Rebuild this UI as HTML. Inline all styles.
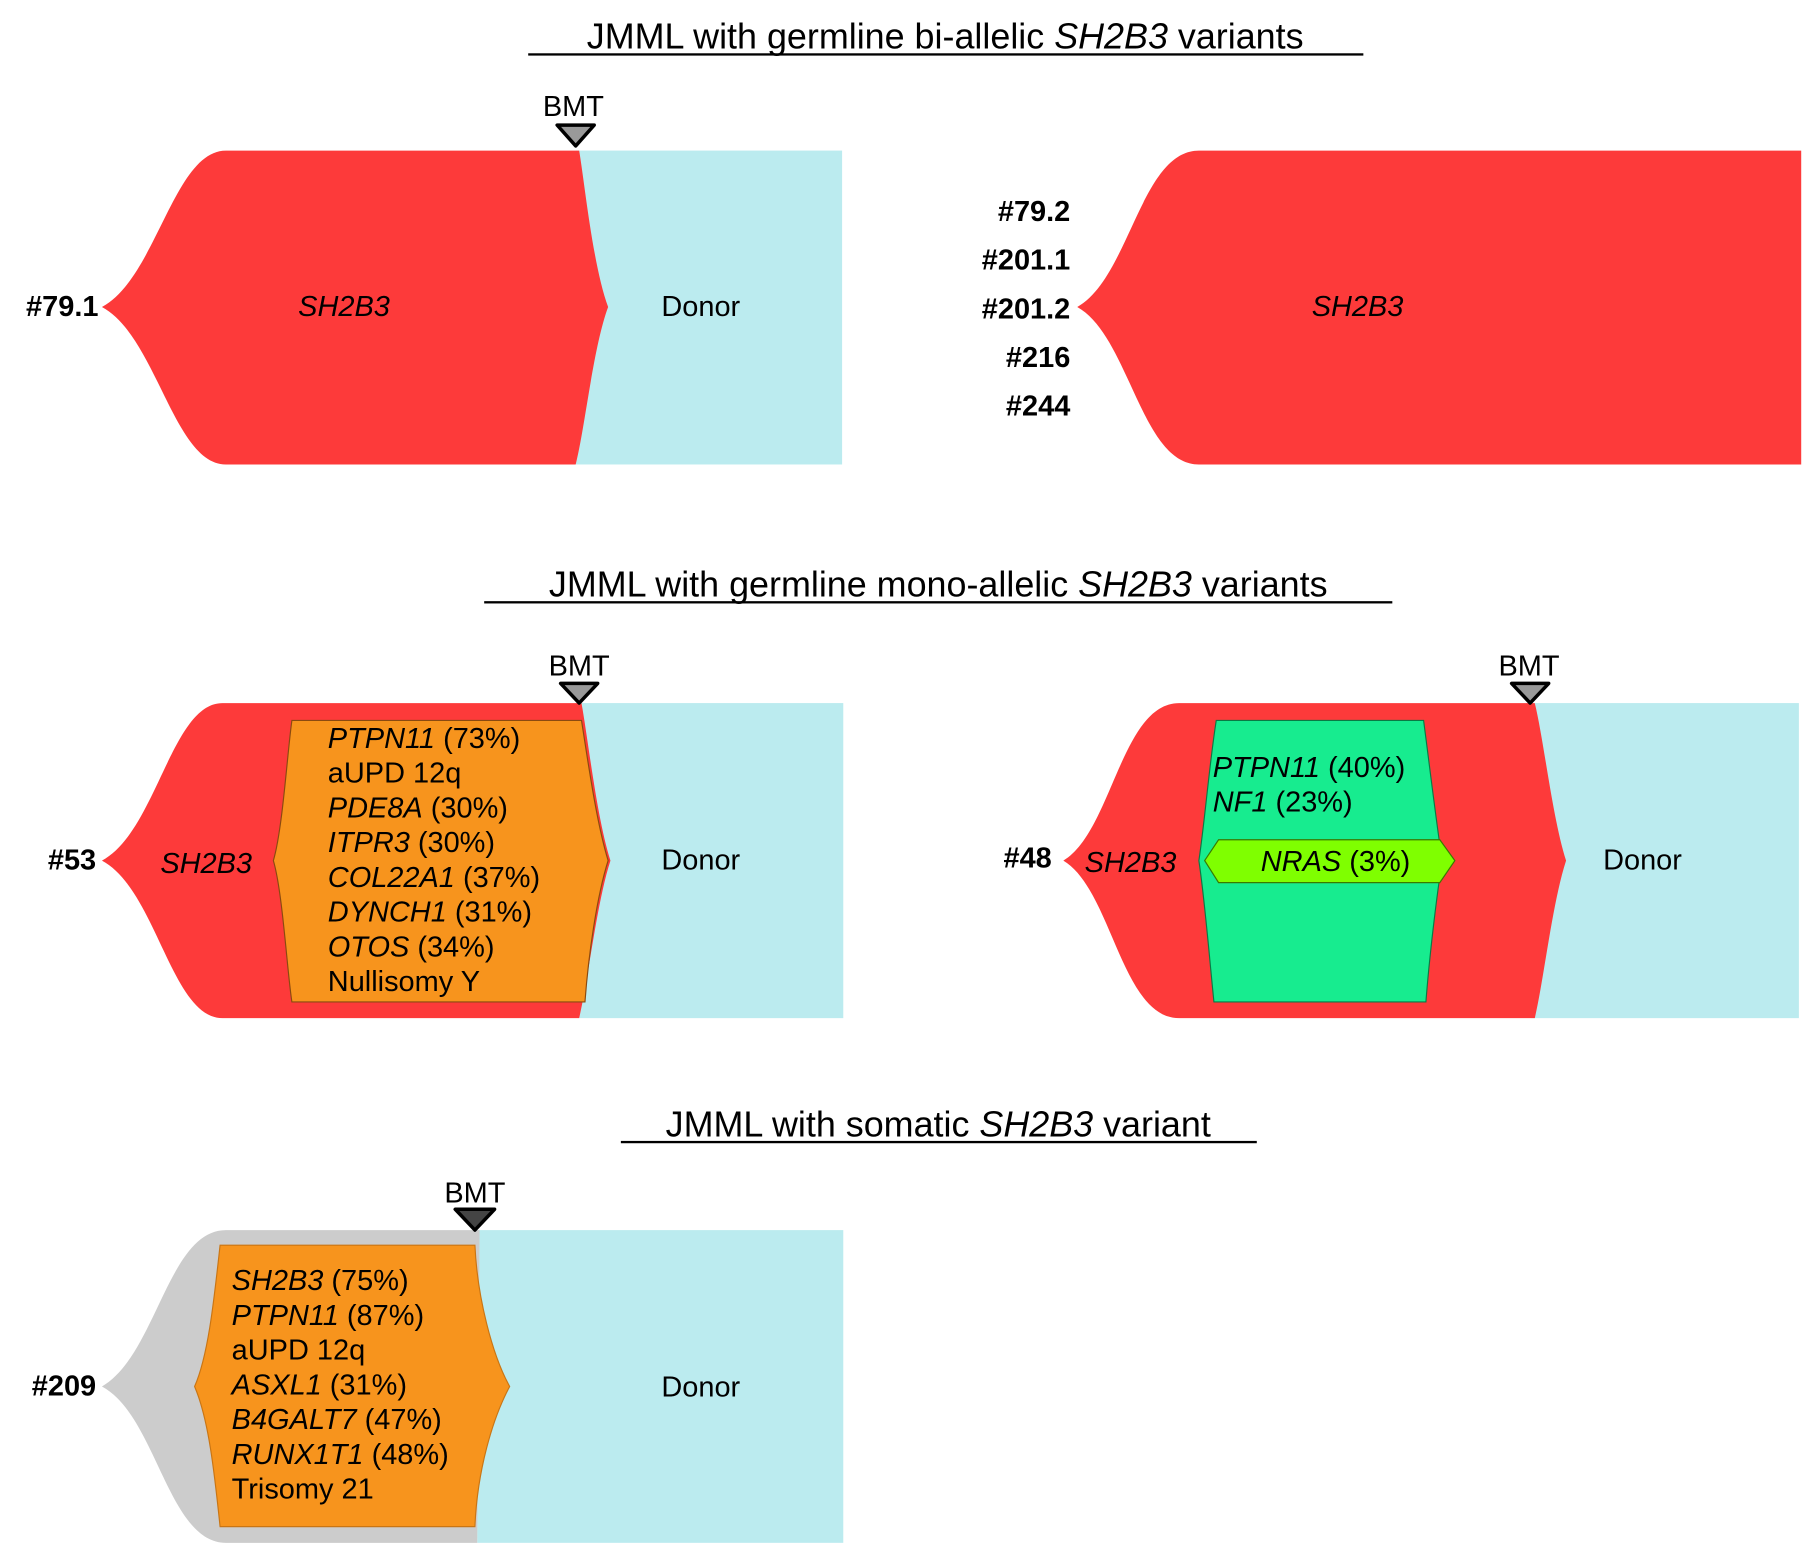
<!DOCTYPE html>
<html><head><meta charset="utf-8"><style>
html,body{margin:0;padding:0;background:#fff;}
svg{display:block;}
text{font-family:"Liberation Sans",Arial,sans-serif;fill:#000;}
.l{font-size:25px;dominant-baseline:central;}
.b{font-weight:bold;}
.i{font-style:italic;}
.t{font-size:31px;}
</style></head><body>
<svg width="1807" height="1555" viewBox="0 0 1560 1342.5" preserveAspectRatio="none" xmlns="http://www.w3.org/2000/svg">
<!-- Title 1 -->
<text class="t" x="816" y="42" text-anchor="middle">JMML with germline bi-allelic <tspan class="i">SH2B3</tspan> variants</text>
<rect x="456" y="46" width="721" height="2" fill="#000"/>

<!-- Panel 1 -->
<rect x="497" y="130" width="230" height="271" fill="#bbebef"/>
<path d="M195,130 C150,130 135,240 88,265 C135,290 150,401 195,401 L497,401 C505,370 512,300 525,265 C512,230 505,160 500,130 Z" fill="#fd3a3a"/>
<text x="495" y="100" style="font-size:25px" text-anchor="middle">BMT</text>
<polygon points="481,108 513,108 497,126" fill="#999" stroke="#000" stroke-width="3" stroke-linejoin="round"/>
<text class="l b" x="85" y="265" text-anchor="end">#79.1</text>
<text class="l i" x="297" y="265" text-anchor="middle">SH2B3</text>
<text class="l" x="605" y="265" text-anchor="middle">Donor</text>

<!-- Panel 2 -->
<path d="M1035,130 C985,130 975,240 930,265 C975,290 985,401 1035,401 L1555,401 L1555,130 Z" fill="#fd3a3a"/>
<text class="l b" x="924" y="183" text-anchor="end">#79.2</text>
<text class="l b" x="924" y="225" text-anchor="end">#201.1</text>
<text class="l b" x="924" y="267" text-anchor="end">#201.2</text>
<text class="l b" x="924" y="309" text-anchor="end">#216</text>
<text class="l b" x="924" y="351" text-anchor="end">#244</text>
<text class="l i" x="1172" y="265" text-anchor="middle">SH2B3</text>

<!-- Title 2 -->
<text class="t" x="810" y="515" text-anchor="middle">JMML with germline mono-allelic <tspan class="i">SH2B3</tspan> variants</text>
<rect x="418" y="519" width="784" height="2" fill="#000"/>

<!-- Panel 3 -->
<rect x="500" y="607" width="228" height="272" fill="#bbebef"/>
<path d="M192,607 C148,607 135,718 88,743 C135,768 148,879 192,879 L500,879 C508,845 515,780 527,743 C515,705 508,640 502,607 Z" fill="#fd3a3a"/>
<path d="M252,622 L502,622 C508,660 515,710 525,743 C515,775 508,825 505,865 L252,865 C248,840 244,770 236,743 C244,716 248,650 252,622 Z" fill="#f7941d" stroke="#8a4a10" stroke-width="1"/>
<text x="500" y="583" style="font-size:25px" text-anchor="middle">BMT</text>
<polygon points="484,590 516,590 500,607" fill="#999" stroke="#000" stroke-width="3" stroke-linejoin="round"/>
<text class="l b" x="83" y="743" text-anchor="end">#53</text>
<text class="l i" x="178" y="746" text-anchor="middle">SH2B3</text>
<text class="l" x="605" y="743" text-anchor="middle">Donor</text>
<text class="l" x="283" y="638"><tspan class="i">PTPN11</tspan> (73%)</text>
<text class="l" x="283" y="668">aUPD 12q</text>
<text class="l" x="283" y="698"><tspan class="i">PDE8A</tspan> (30%)</text>
<text class="l" x="283" y="728"><tspan class="i">ITPR3</tspan> (30%)</text>
<text class="l" x="283" y="758"><tspan class="i">COL22A1</tspan> (37%)</text>
<text class="l" x="283" y="788"><tspan class="i">DYNCH1</tspan> (31%)</text>
<text class="l" x="283" y="818"><tspan class="i">OTOS</tspan> (34%)</text>
<text class="l" x="283" y="848">Nullisomy Y</text>

<!-- Panel 4 -->
<rect x="1322" y="607" width="231" height="272" fill="#bbebef"/>
<path d="M1018,607 C968,607 960,718 918,743 C960,768 968,879 1018,879 L1325,879 C1333,845 1340,780 1352,743 C1340,705 1333,640 1325,607 Z" fill="#fd3a3a"/>
<path d="M1050,622 L1229,622 C1234,660 1240,710 1245,743 C1240,776 1234,826 1231,865 L1048,865 C1044,826 1040,776 1035,743 C1040,710 1044,660 1050,622 Z" fill="#17ec8f" stroke="#0a7a45" stroke-width="1"/>
<polygon points="1040,743 1052,725 1243,725 1256,743 1243,762 1052,762" fill="#7fff00" stroke="#3a7a00" stroke-width="1"/>
<text x="1320" y="583" style="font-size:25px" text-anchor="middle">BMT</text>
<polygon points="1305,590 1337,590 1321,607" fill="#999" stroke="#000" stroke-width="3" stroke-linejoin="round"/>
<text class="l b" x="908" y="741" text-anchor="end">#48</text>
<text class="l i" x="976" y="745" text-anchor="middle">SH2B3</text>
<text class="l" x="1418" y="743" text-anchor="middle">Donor</text>
<text class="l" x="1047" y="663"><tspan class="i">PTPN11</tspan> (40%)</text>
<text class="l" x="1047" y="693"><tspan class="i">NF1</tspan> (23%)</text>
<text class="l" x="1153" y="744" text-anchor="middle"><tspan class="i">NRAS</tspan> (3%)</text>

<!-- Title 3 -->
<text class="t" x="810" y="981" text-anchor="middle">JMML with somatic <tspan class="i">SH2B3</tspan> variant</text>
<rect x="536" y="985" width="549" height="2" fill="#000"/>

<!-- Panel 5 -->
<rect x="412" y="1062" width="316" height="270" fill="#bbebef"/>
<path d="M195,1062 C145,1062 135,1170 88,1197 C135,1222 145,1332 195,1332 L412,1332 L414,1062 Z" fill="#cccccc"/>
<path d="M190,1075 L410,1075 C412,1120 425,1170 440,1197 C425,1225 412,1270 410,1318 L190,1318 C185,1270 180,1225 168,1197 C180,1170 185,1120 190,1075 Z" fill="#f7941d" stroke="#c97514" stroke-width="1"/>
<text x="410" y="1038" style="font-size:25px" text-anchor="middle">BMT</text>
<polygon points="393,1044 427,1044 410,1062" fill="#444" stroke="#000" stroke-width="3" stroke-linejoin="round"/>
<text class="l b" x="83" y="1197" text-anchor="end">#209</text>
<text class="l" x="605" y="1198" text-anchor="middle">Donor</text>
<text class="l" x="200" y="1106"><tspan class="i">SH2B3</tspan> (75%)</text>
<text class="l" x="200" y="1136"><tspan class="i">PTPN11</tspan> (87%)</text>
<text class="l" x="200" y="1166">aUPD 12q</text>
<text class="l" x="200" y="1196"><tspan class="i">ASXL1</tspan> (31%)</text>
<text class="l" x="200" y="1226"><tspan class="i">B4GALT7</tspan> (47%)</text>
<text class="l" x="200" y="1256"><tspan class="i">RUNX1T1</tspan> (48%)</text>
<text class="l" x="200" y="1286">Trisomy 21</text>
</svg>
</body></html>
